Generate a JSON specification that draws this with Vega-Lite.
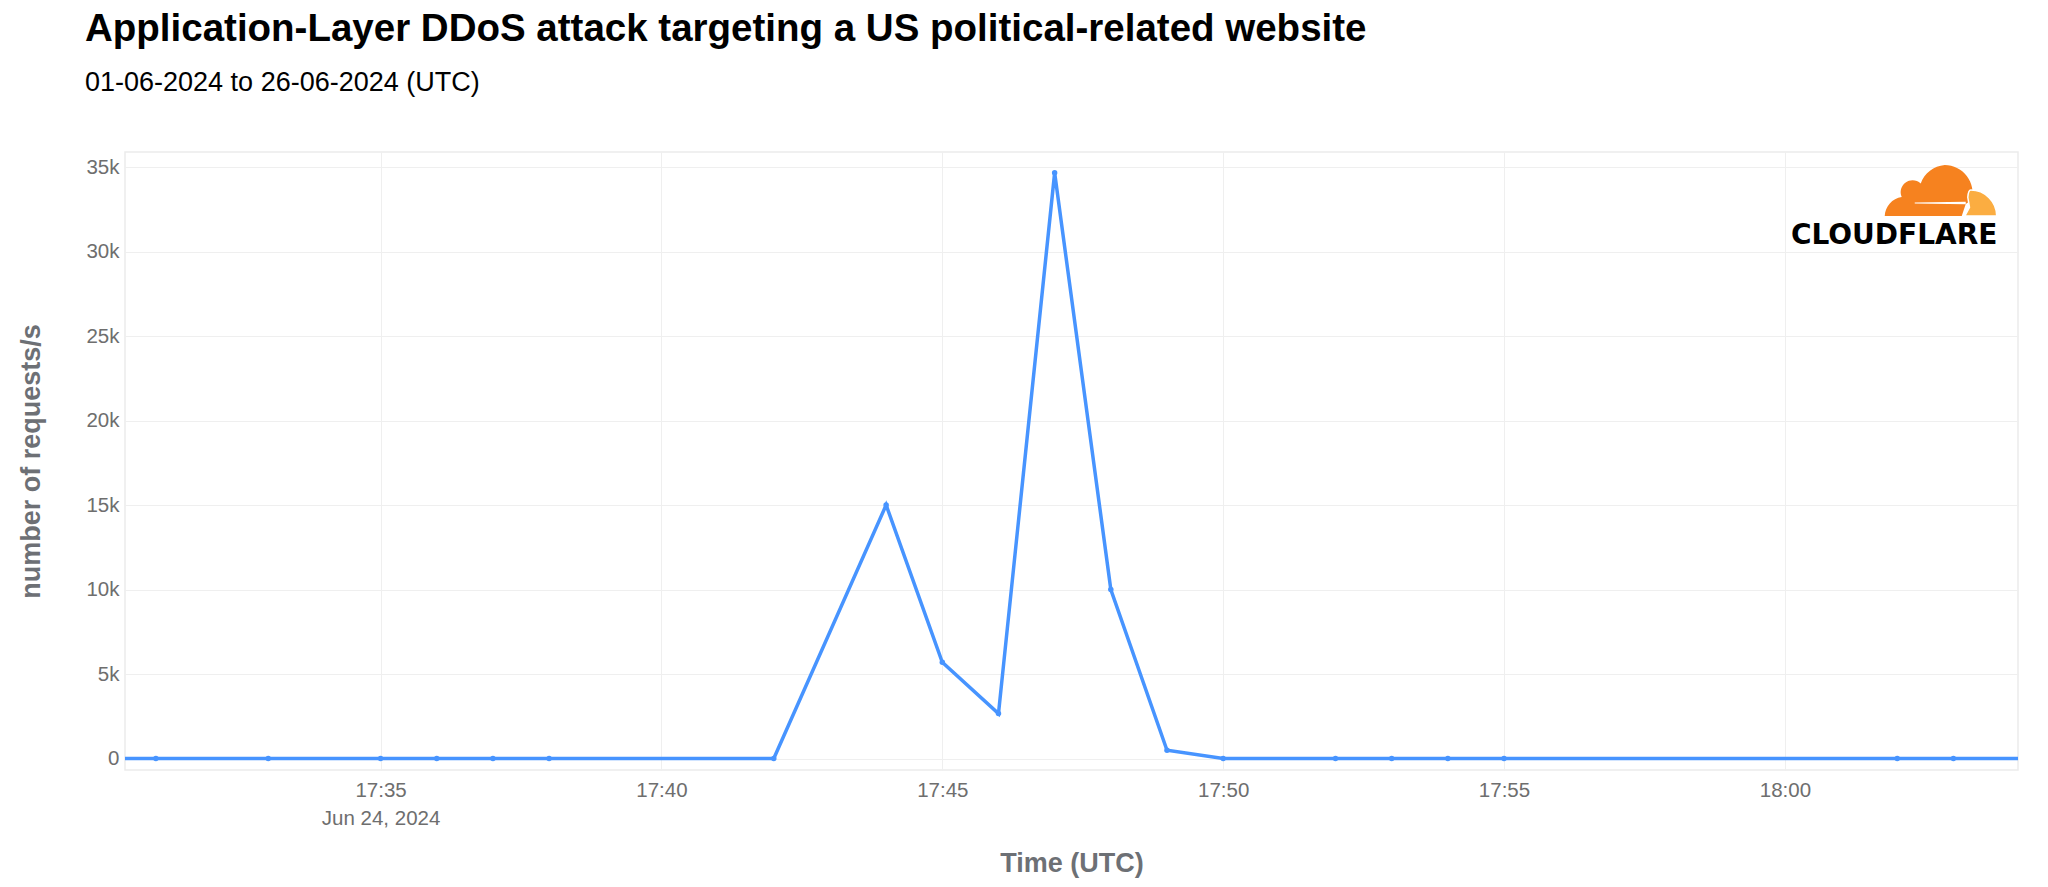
{
  "$schema": "https://vega.github.io/schema/vega-lite/v6.json",
  "width": 1893,
  "height": 618,
  "autosize": {"type": "none"},
  "padding": {"left": 125, "top": 152, "right": 30, "bottom": 117},
  "background": "white",
  "config": {
    "font": "Liberation Sans",
    "view": {"stroke": "#ebebeb", "strokeWidth": 1.5},
    "axis": {
      "gridColor": "#efefef",
      "gridWidth": 1,
      "domain": false,
      "ticks": false,
      "labelFont": "Liberation Sans",
      "labelFontSize": 20.5,
      "labelColor": "#6e6e6e",
      "titleFont": "Liberation Sans",
      "titleFontSize": 27,
      "titleFontWeight": "bold",
      "titleColor": "#6d7075"
    }
  },
  "title": {
    "text": "Application-Layer DDoS attack targeting a US political-related website",
    "subtitle": "01-06-2024 to 26-06-2024 (UTC)",
    "anchor": "start",
    "frame": "group",
    "dx": -40,
    "font": "Liberation Sans",
    "fontSize": 38.5,
    "fontWeight": "bold",
    "color": "#000000",
    "subtitleFont": "Liberation Sans",
    "subtitleFontSize": 27,
    "subtitleColor": "#000000",
    "subtitlePadding": 21,
    "offset": 55
  },
  "data": {
    "values": [
      {"time": "2024-06-24T17:30:00Z", "requests": 0},
      {"time": "2024-06-24T17:31:00Z", "requests": 0},
      {"time": "2024-06-24T17:33:00Z", "requests": 0},
      {"time": "2024-06-24T17:35:00Z", "requests": 0},
      {"time": "2024-06-24T17:36:00Z", "requests": 0},
      {"time": "2024-06-24T17:37:00Z", "requests": 0},
      {"time": "2024-06-24T17:38:00Z", "requests": 0},
      {"time": "2024-06-24T17:42:00Z", "requests": 0},
      {"time": "2024-06-24T17:44:00Z", "requests": 15000},
      {"time": "2024-06-24T17:45:00Z", "requests": 5690},
      {"time": "2024-06-24T17:46:00Z", "requests": 2660},
      {"time": "2024-06-24T17:47:00Z", "requests": 34660},
      {"time": "2024-06-24T17:48:00Z", "requests": 10000},
      {"time": "2024-06-24T17:49:00Z", "requests": 490},
      {"time": "2024-06-24T17:50:00Z", "requests": 0},
      {"time": "2024-06-24T17:52:00Z", "requests": 0},
      {"time": "2024-06-24T17:53:00Z", "requests": 0},
      {"time": "2024-06-24T17:54:00Z", "requests": 0},
      {"time": "2024-06-24T17:55:00Z", "requests": 0},
      {"time": "2024-06-24T18:02:00Z", "requests": 0},
      {"time": "2024-06-24T18:03:00Z", "requests": 0},
      {"time": "2024-06-24T18:05:00Z", "requests": 0}
    ]
  },
  "layer": [
    {
      "encoding": {
        "x": {
          "field": "time",
          "type": "temporal",
          "scale": {
            "type": "utc",
            "domain": [
              {"year": 2024, "month": 6, "date": 24, "hours": 17, "minutes": 30, "seconds": 27, "utc": true},
              {"year": 2024, "month": 6, "date": 24, "hours": 18, "minutes": 4, "seconds": 9, "utc": true}
            ]
          },
          "axis": {
            "title": "Time (UTC)",
            "values": [
              {"year": 2024, "month": 6, "date": 24, "hours": 17, "minutes": 35, "utc": true},
              {"year": 2024, "month": 6, "date": 24, "hours": 17, "minutes": 40, "utc": true},
              {"year": 2024, "month": 6, "date": 24, "hours": 17, "minutes": 45, "utc": true},
              {"year": 2024, "month": 6, "date": 24, "hours": 17, "minutes": 50, "utc": true},
              {"year": 2024, "month": 6, "date": 24, "hours": 17, "minutes": 55, "utc": true},
              {"year": 2024, "month": 6, "date": 24, "hours": 18, "minutes": 0, "utc": true}
            ],
            "labelExpr": "utcFormat(datum.value, '%H:%M') == '17:35' ? ['17:35', 'Jun 24, 2024'] : utcFormat(datum.value, '%H:%M')",
            "labelLineHeight": 28,
            "labelPadding": 10,
            "labelOverlap": false,
            "labelFlush": false,
            "titlePadding": 22
          }
        },
        "y": {
          "field": "requests",
          "type": "quantitative",
          "scale": {"domain": [-680, 35890], "nice": false, "zero": false},
          "axis": {
            "title": "number of requests/s",
            "values": [0, 5000, 10000, 15000, 20000, 25000, 30000, 35000],
            "labelExpr": "datum.value == 0 ? '0' : (datum.value / 1000) + 'k'",
            "labelPadding": 6,
            "titlePadding": 40
          }
        }
      },
      "layer": [
        {"mark": {"type": "line", "color": "#4794ff", "strokeWidth": 3.5, "clip": true}},
        {"mark": {"type": "point", "filled": true, "size": 30, "color": "#4794ff", "opacity": 1, "clip": true}}
      ]
    },
    {
      "data": {"values": [{}]},
      "mark": {
        "type": "point",
        "shape": "M -1 0.451 A 0.354 0.354 0 0 1 -0.699 0.115 A 0.21 0.21 0 0 1 -0.363 -0.124 A 0.496 0.496 0 0 1 0.062 -0.451 A 0.496 0.496 0 0 1 0.540 0.168 L 0.434 0.239 L 0.363 0.451 Z",
        "filled": true,
        "color": "#f6821f",
        "opacity": 1,
        "strokeWidth": 0,
        "size": 12769
      },
      "encoding": {
        "x": {"datum": {"year": 2024, "month": 6, "date": 24, "hours": 18, "minutes": 2, "seconds": 47, "utc": true}, "type": "temporal"},
        "y": {"datum": 33610, "type": "quantitative"}
      }
    },
    {
      "data": {"values": [{}]},
      "mark": {
        "type": "point",
        "shape": "M 0.416 0.451 L 0.5 0.3 L 0.47 0.12 Q 0.48 -0.009 0.522 -0.009 A 0.46 0.46 0 0 1 0.982 0.451 Z",
        "filled": true,
        "fill": "#fbad41",
        "stroke": "#ffffff",
        "strokeWidth": 1.5,
        "opacity": 1,
        "size": 12769
      },
      "encoding": {
        "x": {"datum": {"year": 2024, "month": 6, "date": 24, "hours": 18, "minutes": 2, "seconds": 47, "utc": true}, "type": "temporal"},
        "y": {"datum": 33610, "type": "quantitative"}
      }
    },
    {
      "data": {"values": [{}]},
      "mark": {
        "type": "point",
        "shape": "M -0.469 0.21 L 0.434 0.2 L 0.434 0.245 L -0.469 0.228 Z",
        "filled": true,
        "color": "#ffffff",
        "opacity": 1,
        "strokeWidth": 0,
        "size": 12769
      },
      "encoding": {
        "x": {"datum": {"year": 2024, "month": 6, "date": 24, "hours": 18, "minutes": 2, "seconds": 47, "utc": true}, "type": "temporal"},
        "y": {"datum": 33610, "type": "quantitative"}
      }
    },
    {
      "data": {"values": [{}]},
      "mark": {
        "type": "text",
        "text": "CLOUDFLARE",
        "font": "DejaVu Sans",
        "fontWeight": "bold",
        "fontSize": 28,
        "align": "right",
        "baseline": "alphabetic",
        "color": "#000000"
      },
      "encoding": {
        "x": {"datum": {"year": 2024, "month": 6, "date": 24, "hours": 18, "minutes": 3, "seconds": 47, "utc": true}, "type": "temporal"},
        "y": {"datum": 30440, "type": "quantitative"}
      }
    }
  ]
}
